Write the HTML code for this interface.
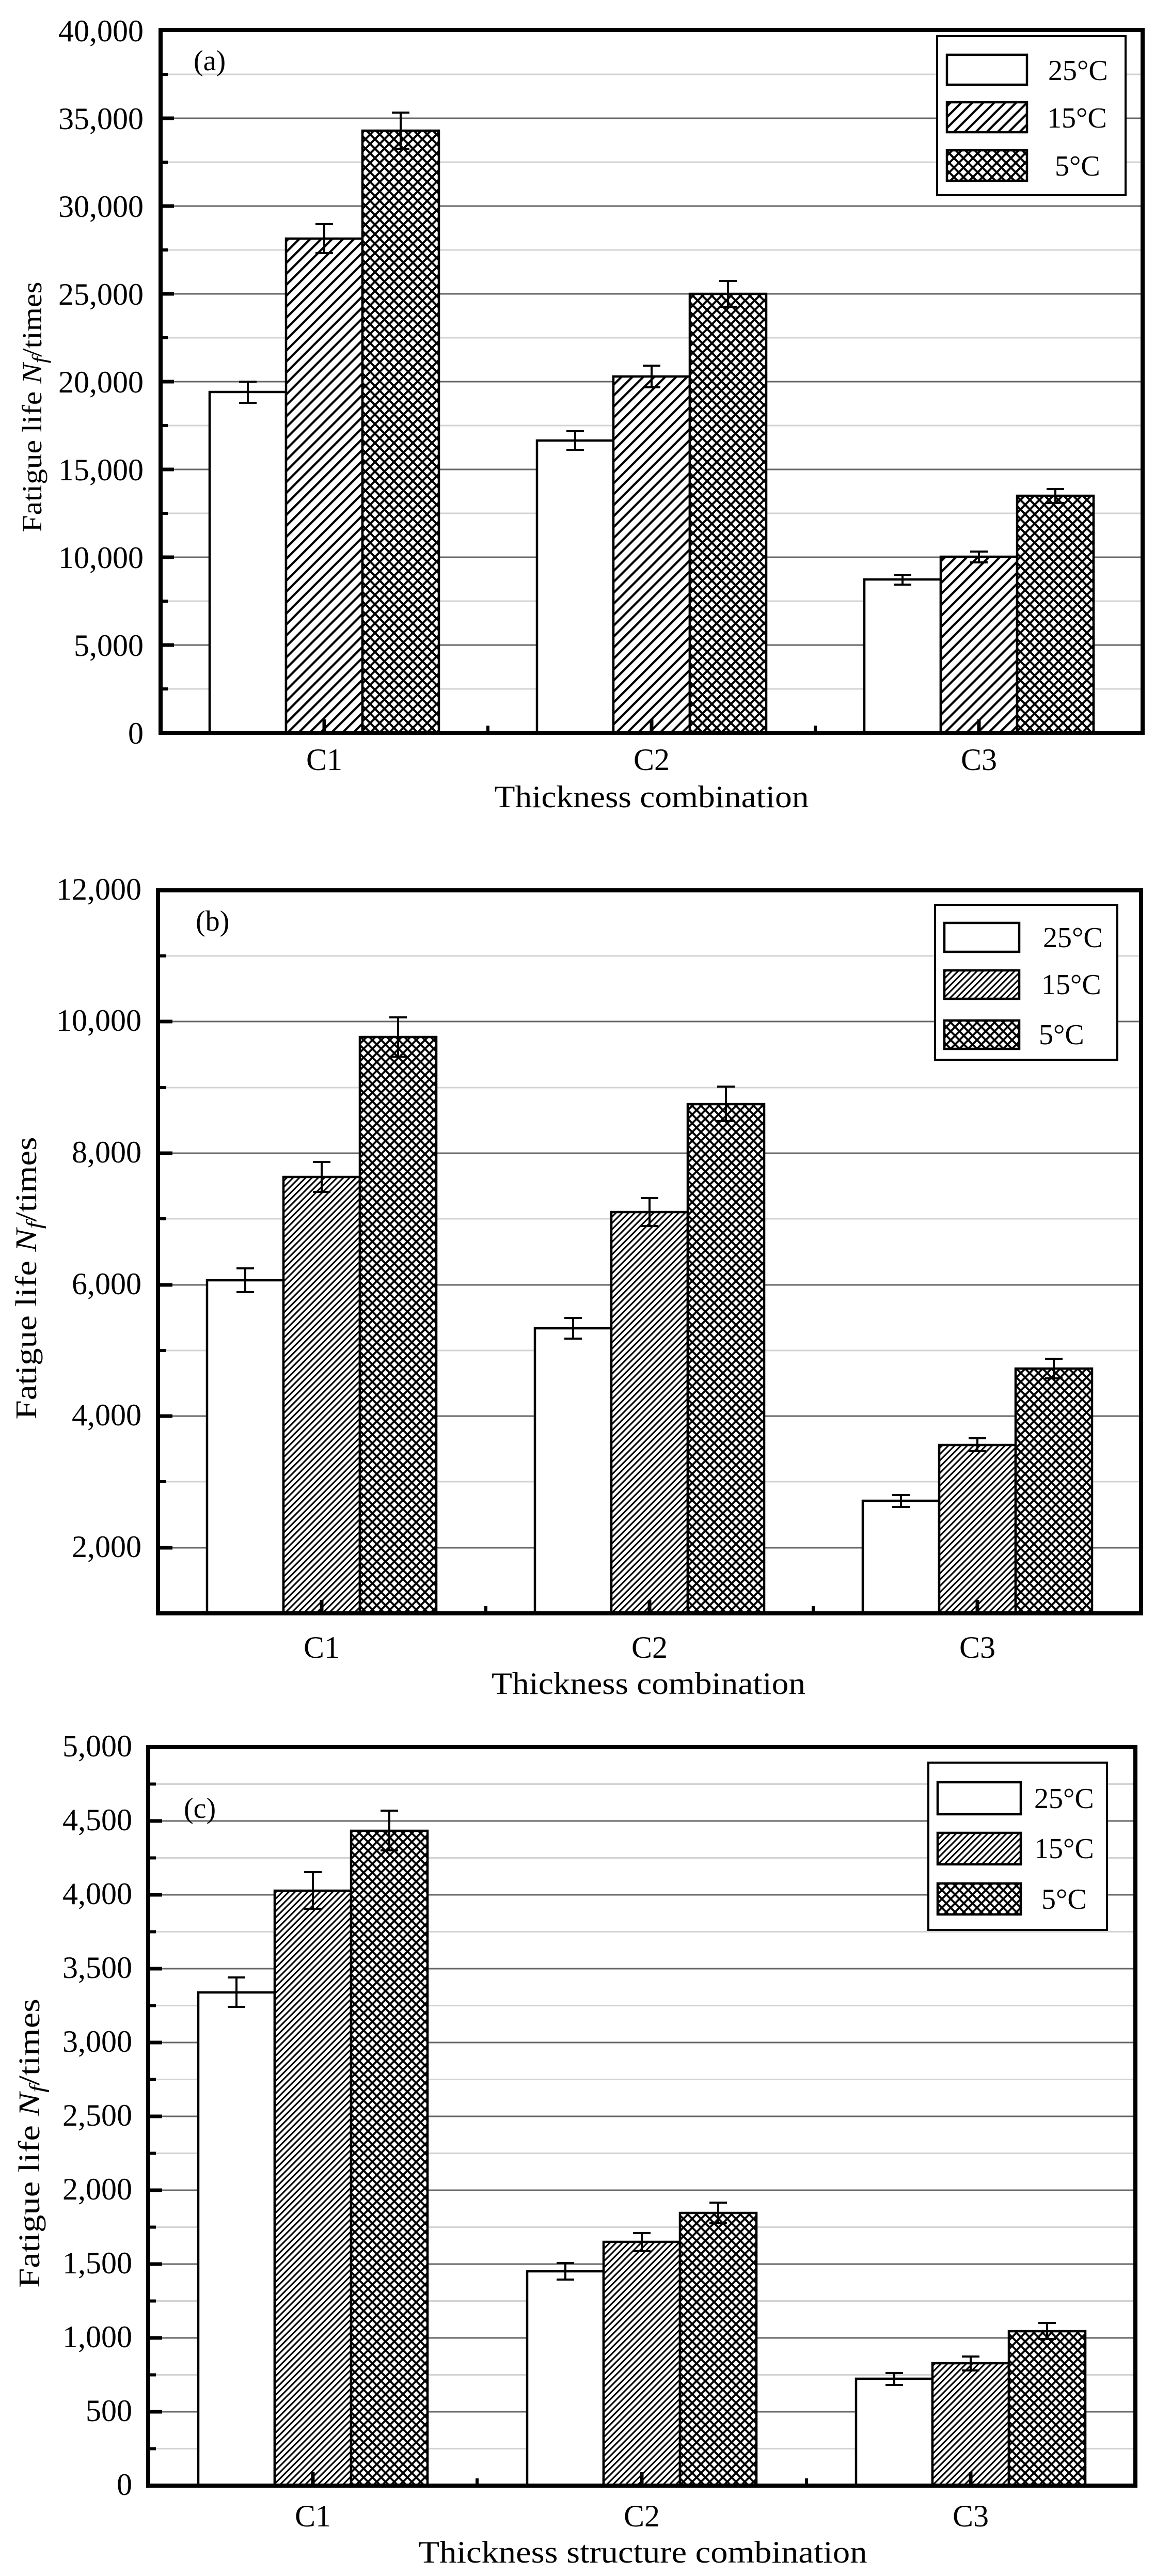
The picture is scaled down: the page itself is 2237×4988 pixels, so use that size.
<!DOCTYPE html>
<html><head><meta charset="utf-8">
<style>
html,body{margin:0;padding:0;background:#fff;}
svg{display:block;}
text{font-family:"Liberation Serif",serif;fill:#000;}
.gmaj{stroke:#666;stroke-width:3;}
.gmin{stroke:#d3d3d3;stroke-width:3;}
.ax{stroke:#000;stroke-width:8;fill:none;}
.tk{stroke:#000;stroke-width:7;}
.tkm{stroke:#000;stroke-width:6;}
.bar{stroke:#000;stroke-width:4.5;}
.eb{stroke:#000;stroke-width:4;fill:none;}
.lg{fill:#fff;stroke:#000;stroke-width:4;}
</style></head>
<body>
<svg width="2237" height="4988" viewBox="0 0 2237 4988" xmlns="http://www.w3.org/2000/svg">
<defs>
<pattern id="hA" patternUnits="userSpaceOnUse" width="15" height="15" patternTransform="rotate(45)">
<rect width="15" height="15" fill="#fff"/><line x1="2" y1="0" x2="2" y2="15" stroke="#000" stroke-width="4.5"/></pattern>
<pattern id="xA" patternUnits="userSpaceOnUse" width="13" height="13" patternTransform="rotate(45)">
<rect width="13" height="13" fill="#fff"/><line x1="2" y1="0" x2="2" y2="13" stroke="#000" stroke-width="4"/><line x1="0" y1="2" x2="13" y2="2" stroke="#000" stroke-width="4"/></pattern>
<pattern id="hB" patternUnits="userSpaceOnUse" width="8.6" height="8.6" patternTransform="rotate(45)">
<rect width="9" height="9" fill="#fff"/><line x1="1.5" y1="0" x2="1.5" y2="9" stroke="#000" stroke-width="3.2"/></pattern>
<pattern id="xB" patternUnits="userSpaceOnUse" width="12" height="12" patternTransform="rotate(45)">
<rect width="12" height="12" fill="#fff"/><line x1="2" y1="0" x2="2" y2="12" stroke="#000" stroke-width="3.8"/><line x1="0" y1="2" x2="12" y2="2" stroke="#000" stroke-width="3.8"/></pattern>
</defs>
<rect width="2237" height="4988" fill="#fff"/>

<!-- ================= PANEL A ================= -->
<g>
<line class="gmin" x1="311" x2="2213" y1="1334" y2="1334"/>
<line class="gmaj" x1="311" x2="2213" y1="1249" y2="1249"/>
<line class="gmin" x1="311" x2="2213" y1="1164" y2="1164"/>
<line class="gmaj" x1="311" x2="2213" y1="1079" y2="1079"/>
<line class="gmin" x1="311" x2="2213" y1="994" y2="994"/>
<line class="gmaj" x1="311" x2="2213" y1="909" y2="909"/>
<line class="gmin" x1="311" x2="2213" y1="824" y2="824"/>
<line class="gmaj" x1="311" x2="2213" y1="739" y2="739"/>
<line class="gmin" x1="311" x2="2213" y1="654" y2="654"/>
<line class="gmaj" x1="311" x2="2213" y1="569" y2="569"/>
<line class="gmin" x1="311" x2="2213" y1="484" y2="484"/>
<line class="gmaj" x1="311" x2="2213" y1="399" y2="399"/>
<line class="gmin" x1="311" x2="2213" y1="314" y2="314"/>
<line class="gmaj" x1="311" x2="2213" y1="229" y2="229"/>
<line class="gmin" x1="311" x2="2213" y1="144" y2="144"/>

<rect class="bar" x="406" y="759" width="148" height="660" fill="#fff"/>
<rect class="bar" x="554" y="462" width="148" height="957" fill="url(#hA)"/>
<rect class="bar" x="702" y="253" width="148" height="1166" fill="url(#xA)"/>
<rect class="bar" x="1040" y="853" width="148" height="566" fill="#fff"/>
<rect class="bar" x="1188" y="729" width="148" height="690" fill="url(#hA)"/>
<rect class="bar" x="1336" y="569" width="148" height="850" fill="url(#xA)"/>
<rect class="bar" x="1674" y="1122" width="148" height="297" fill="#fff"/>
<rect class="bar" x="1822" y="1078" width="148" height="341" fill="url(#hA)"/>
<rect class="bar" x="1970" y="960" width="148" height="459" fill="url(#xA)"/>

<path class="eb" d="M480 739V780M463 739H497M463 780H497"/>
<path class="eb" d="M628 434V490M611 434H645M611 490H645"/>
<path class="eb" d="M776 218V288M759 218H793M759 288H793"/>
<path class="eb" d="M1114 835V871M1097 835H1131M1097 871H1131"/>
<path class="eb" d="M1262 708V750M1245 708H1279M1245 750H1279"/>
<path class="eb" d="M1410 544V594M1393 544H1427M1393 594H1427"/>
<path class="eb" d="M1748 1113V1132M1731 1113H1765M1731 1132H1765"/>
<path class="eb" d="M1896 1068V1089M1879 1068H1913M1879 1089H1913"/>
<path class="eb" d="M2044 947V974M2027 947H2061M2027 974H2061"/>

<rect class="ax" x="311" y="58" width="1902" height="1361"/>
<g class="tk">
<line x1="311" x2="337" y1="1249" y2="1249"/><line x1="311" x2="337" y1="1079" y2="1079"/>
<line x1="311" x2="337" y1="909" y2="909"/><line x1="311" x2="337" y1="739" y2="739"/>
<line x1="311" x2="337" y1="569" y2="569"/><line x1="311" x2="337" y1="399" y2="399"/>
<line x1="311" x2="337" y1="229" y2="229"/>
<line x1="628" x2="628" y1="1419" y2="1393"/><line x1="1262" x2="1262" y1="1419" y2="1393"/><line x1="1896" x2="1896" y1="1419" y2="1393"/>
</g>
<g class="tkm">
<line x1="311" x2="325" y1="1334" y2="1334"/><line x1="311" x2="325" y1="1164" y2="1164"/>
<line x1="311" x2="325" y1="994" y2="994"/><line x1="311" x2="325" y1="824" y2="824"/>
<line x1="311" x2="325" y1="654" y2="654"/><line x1="311" x2="325" y1="484" y2="484"/>
<line x1="311" x2="325" y1="314" y2="314"/><line x1="311" x2="325" y1="144" y2="144"/>
<line x1="945" x2="945" y1="1419" y2="1405"/><line x1="1579" x2="1579" y1="1419" y2="1405"/>
</g>
<g font-size="60" text-anchor="end">
<text x="278" y="1440">0</text>
<text x="278" y="1270">5,000</text>
<text x="278" y="1100">10,000</text>
<text x="278" y="930">15,000</text>
<text x="278" y="760">20,000</text>
<text x="278" y="590">25,000</text>
<text x="278" y="420">30,000</text>
<text x="278" y="250">35,000</text>
<text x="278" y="80">40,000</text>
</g>
<g font-size="60" text-anchor="middle">
<text x="628" y="1491">C1</text><text x="1262" y="1491">C2</text><text x="1896" y="1491">C3</text>
<text x="1262" y="1563" textLength="609" lengthAdjust="spacingAndGlyphs">Thickness combination</text>
</g>
<text font-size="56" x="375" y="136">(a)</text>
<text font-size="54" transform="translate(80,788) rotate(-90)" text-anchor="middle" textLength="485" lengthAdjust="spacingAndGlyphs">Fatigue life <tspan font-style="italic">N</tspan><tspan font-style="italic" font-size="40" dy="10">f</tspan><tspan dy="-10">/times</tspan></text>

<rect class="lg" x="1815" y="70" width="365" height="308"/>
<rect class="bar" x="1834" y="106" width="155" height="58" fill="#fff"/>
<rect class="bar" x="1834" y="198" width="155" height="58" fill="url(#hA)"/>
<rect class="bar" x="1834" y="291" width="155" height="59" fill="url(#xA)"/>
<g font-size="56">
<text x="2030" y="155">25°C</text>
<text x="2028" y="247">15°C</text>
<text x="2043" y="340">5°C</text>
</g>
</g>

<!-- ================= PANEL B ================= -->
<g>
<line class="gmaj" x1="306" x2="2210" y1="2997" y2="2997"/>
<line class="gmin" x1="306" x2="2210" y1="2869" y2="2869"/>
<line class="gmaj" x1="306" x2="2210" y1="2742" y2="2742"/>
<line class="gmin" x1="306" x2="2210" y1="2615" y2="2615"/>
<line class="gmaj" x1="306" x2="2210" y1="2488" y2="2488"/>
<line class="gmin" x1="306" x2="2210" y1="2360" y2="2360"/>
<line class="gmaj" x1="306" x2="2210" y1="2233" y2="2233"/>
<line class="gmin" x1="306" x2="2210" y1="2106" y2="2106"/>
<line class="gmaj" x1="306" x2="2210" y1="1978" y2="1978"/>
<line class="gmin" x1="306" x2="2210" y1="1851" y2="1851"/>

<rect class="bar" x="401" y="2479" width="148" height="645" fill="#fff"/>
<rect class="bar" x="549" y="2279" width="148" height="845" fill="url(#hB)"/>
<rect class="bar" x="697" y="2008" width="148" height="1116" fill="url(#xB)"/>
<rect class="bar" x="1036" y="2572" width="148" height="552" fill="#fff"/>
<rect class="bar" x="1184" y="2347" width="148" height="777" fill="url(#hB)"/>
<rect class="bar" x="1332" y="2138" width="148" height="986" fill="url(#xB)"/>
<rect class="bar" x="1671" y="2906" width="148" height="218" fill="#fff"/>
<rect class="bar" x="1819" y="2798" width="148" height="326" fill="url(#hB)"/>
<rect class="bar" x="1967" y="2650" width="148" height="474" fill="url(#xB)"/>

<path class="eb" d="M475 2456V2502M458 2456H492M458 2502H492"/>
<path class="eb" d="M623 2250V2308M606 2250H640M606 2308H640"/>
<path class="eb" d="M771 1970V2046M754 1970H788M754 2046H788"/>
<path class="eb" d="M1110 2552V2592M1093 2552H1127M1093 2592H1127"/>
<path class="eb" d="M1258 2320V2374M1241 2320H1275M1241 2374H1275"/>
<path class="eb" d="M1406 2104V2171M1389 2104H1423M1389 2171H1423"/>
<path class="eb" d="M1745 2895V2918M1728 2895H1762M1728 2918H1762"/>
<path class="eb" d="M1893 2785V2810M1876 2785H1910M1876 2810H1910"/>
<path class="eb" d="M2041 2631V2669M2024 2631H2058M2024 2669H2058"/>

<rect class="ax" x="306" y="1724" width="1904" height="1400"/>
<g class="tk">
<line x1="306" x2="334" y1="2997" y2="2997"/><line x1="306" x2="334" y1="2742" y2="2742"/>
<line x1="306" x2="334" y1="2488" y2="2488"/><line x1="306" x2="334" y1="2233" y2="2233"/>
<line x1="306" x2="334" y1="1978" y2="1978"/>
<line x1="623" x2="623" y1="3124" y2="3098"/><line x1="1258" x2="1258" y1="3124" y2="3098"/><line x1="1893" x2="1893" y1="3124" y2="3098"/>
</g>
<g class="tkm">
<line x1="306" x2="322" y1="2869" y2="2869"/><line x1="306" x2="322" y1="2615" y2="2615"/>
<line x1="306" x2="322" y1="2360" y2="2360"/><line x1="306" x2="322" y1="2106" y2="2106"/>
<line x1="306" x2="322" y1="1851" y2="1851"/>
<line x1="941" x2="941" y1="3124" y2="3110"/><line x1="1575" x2="1575" y1="3124" y2="3110"/>
</g>
<g font-size="60" text-anchor="end">
<text x="274" y="3015">2,000</text>
<text x="274" y="2760">4,000</text>
<text x="274" y="2506">6,000</text>
<text x="274" y="2251">8,000</text>
<text x="274" y="1996">10,000</text>
<text x="274" y="1742">12,000</text>
</g>
<g font-size="60" text-anchor="middle">
<text x="623" y="3210">C1</text><text x="1258" y="3210">C2</text><text x="1893" y="3210">C3</text>
<text x="1256" y="3280" textLength="608" lengthAdjust="spacingAndGlyphs">Thickness combination</text>
</g>
<text font-size="56" x="379" y="1802">(b)</text>
<text font-size="58" transform="translate(70,2475) rotate(-90)" text-anchor="middle" textLength="547" lengthAdjust="spacingAndGlyphs">Fatigue life <tspan font-style="italic">N</tspan><tspan font-style="italic" font-size="42" dy="10">f</tspan><tspan dy="-10">/times</tspan></text>

<rect class="lg" x="1811" y="1752" width="353" height="300"/>
<rect class="bar" x="1829" y="1787" width="145" height="56" fill="#fff"/>
<rect class="bar" x="1829" y="1879" width="145" height="55" fill="url(#hB)"/>
<rect class="bar" x="1829" y="1976" width="145" height="55" fill="url(#xB)"/>
<g font-size="56">
<text x="2020" y="1834">25°C</text>
<text x="2017" y="1925">15°C</text>
<text x="2012" y="2022">5°C</text>
</g>
</g>

<!-- ================= PANEL C ================= -->
<g>
<line class="gmin" x1="287" x2="2199" y1="4741.5" y2="4741.5"/>
<line class="gmaj" x1="287" x2="2199" y1="4670" y2="4670"/>
<line class="gmin" x1="287" x2="2199" y1="4598.5" y2="4598.5"/>
<line class="gmaj" x1="287" x2="2199" y1="4527" y2="4527"/>
<line class="gmin" x1="287" x2="2199" y1="4455.5" y2="4455.5"/>
<line class="gmaj" x1="287" x2="2199" y1="4384" y2="4384"/>
<line class="gmin" x1="287" x2="2199" y1="4312.5" y2="4312.5"/>
<line class="gmaj" x1="287" x2="2199" y1="4241" y2="4241"/>
<line class="gmin" x1="287" x2="2199" y1="4169.5" y2="4169.5"/>
<line class="gmaj" x1="287" x2="2199" y1="4098" y2="4098"/>
<line class="gmin" x1="287" x2="2199" y1="4026.5" y2="4026.5"/>
<line class="gmaj" x1="287" x2="2199" y1="3955" y2="3955"/>
<line class="gmin" x1="287" x2="2199" y1="3883.5" y2="3883.5"/>
<line class="gmaj" x1="287" x2="2199" y1="3812" y2="3812"/>
<line class="gmin" x1="287" x2="2199" y1="3740.5" y2="3740.5"/>
<line class="gmaj" x1="287" x2="2199" y1="3669" y2="3669"/>
<line class="gmin" x1="287" x2="2199" y1="3597.5" y2="3597.5"/>
<line class="gmaj" x1="287" x2="2199" y1="3526" y2="3526"/>
<line class="gmin" x1="287" x2="2199" y1="3454.5" y2="3454.5"/>

<rect class="bar" x="384" y="3858" width="148" height="955" fill="#fff"/>
<rect class="bar" x="532" y="3661" width="148" height="1152" fill="url(#hB)"/>
<rect class="bar" x="680" y="3545" width="148" height="1268" fill="url(#xB)"/>
<rect class="bar" x="1021" y="4398" width="148" height="415" fill="#fff"/>
<rect class="bar" x="1169" y="4341" width="148" height="472" fill="url(#hB)"/>
<rect class="bar" x="1317" y="4285" width="148" height="528" fill="url(#xB)"/>
<rect class="bar" x="1658" y="4606" width="148" height="207" fill="#fff"/>
<rect class="bar" x="1806" y="4576" width="148" height="237" fill="url(#hB)"/>
<rect class="bar" x="1954" y="4514" width="148" height="299" fill="url(#xB)"/>

<path class="eb" d="M458 3829V3886M441 3829H475M441 3886H475"/>
<path class="eb" d="M606 3625V3696M589 3625H623M589 3696H623"/>
<path class="eb" d="M754 3506V3583M737 3506H771M737 3583H771"/>
<path class="eb" d="M1095 4382V4414M1078 4382H1112M1078 4414H1112"/>
<path class="eb" d="M1243 4324V4359M1226 4324H1260M1226 4359H1260"/>
<path class="eb" d="M1391 4265V4305M1374 4265H1408M1374 4305H1408"/>
<path class="eb" d="M1732 4595V4618M1715 4595H1749M1715 4618H1749"/>
<path class="eb" d="M1880 4563V4590M1863 4563H1897M1863 4590H1897"/>
<path class="eb" d="M2028 4498V4529M2011 4498H2045M2011 4529H2045"/>

<rect class="ax" x="287" y="3383" width="1912" height="1430"/>
<g class="tk">
<line x1="287" x2="314" y1="4670" y2="4670"/><line x1="287" x2="314" y1="4527" y2="4527"/>
<line x1="287" x2="314" y1="4384" y2="4384"/><line x1="287" x2="314" y1="4241" y2="4241"/>
<line x1="287" x2="314" y1="4098" y2="4098"/><line x1="287" x2="314" y1="3955" y2="3955"/>
<line x1="287" x2="314" y1="3812" y2="3812"/><line x1="287" x2="314" y1="3669" y2="3669"/>
<line x1="287" x2="314" y1="3526" y2="3526"/>
<line x1="606" x2="606" y1="4813" y2="4787"/><line x1="1243" x2="1243" y1="4813" y2="4787"/><line x1="1880" x2="1880" y1="4813" y2="4787"/>
</g>
<g class="tkm">
<line x1="287" x2="302" y1="4741.5" y2="4741.5"/><line x1="287" x2="302" y1="4598.5" y2="4598.5"/>
<line x1="287" x2="302" y1="4455.5" y2="4455.5"/><line x1="287" x2="302" y1="4312.5" y2="4312.5"/>
<line x1="287" x2="302" y1="4169.5" y2="4169.5"/><line x1="287" x2="302" y1="4026.5" y2="4026.5"/>
<line x1="287" x2="302" y1="3883.5" y2="3883.5"/><line x1="287" x2="302" y1="3740.5" y2="3740.5"/>
<line x1="287" x2="302" y1="3597.5" y2="3597.5"/><line x1="287" x2="302" y1="3454.5" y2="3454.5"/>
<line x1="924" x2="924" y1="4813" y2="4799"/><line x1="1562" x2="1562" y1="4813" y2="4799"/>
</g>
<g font-size="60" text-anchor="end">
<text x="256" y="4831">0</text>
<text x="256" y="4688">500</text>
<text x="256" y="4545">1,000</text>
<text x="256" y="4402">1,500</text>
<text x="256" y="4259">2,000</text>
<text x="256" y="4116">2,500</text>
<text x="256" y="3973">3,000</text>
<text x="256" y="3830">3,500</text>
<text x="256" y="3687">4,000</text>
<text x="256" y="3544">4,500</text>
<text x="256" y="3401">5,000</text>
</g>
<g font-size="60" text-anchor="middle">
<text x="606" y="4892">C1</text><text x="1243" y="4892">C2</text><text x="1880" y="4892">C3</text>
<text x="1245" y="4962" textLength="869" lengthAdjust="spacingAndGlyphs">Thickness structure combination</text>
</g>
<text font-size="56" x="356" y="3520">(c)</text>
<text font-size="58" transform="translate(76,4150) rotate(-90)" text-anchor="middle" textLength="560" lengthAdjust="spacingAndGlyphs">Fatigue life <tspan font-style="italic">N</tspan><tspan font-style="italic" font-size="42" dy="10">f</tspan><tspan dy="-10">/times</tspan></text>

<rect class="lg" x="1798" y="3413" width="346" height="324"/>
<rect class="bar" x="1816" y="3451" width="161" height="62" fill="#fff"/>
<rect class="bar" x="1816" y="3549" width="161" height="61" fill="url(#hB)"/>
<rect class="bar" x="1816" y="3647" width="161" height="60" fill="url(#xB)"/>
<g font-size="56">
<text x="2003" y="3501">25°C</text>
<text x="2003" y="3598">15°C</text>
<text x="2017" y="3696">5°C</text>
</g>
</g>
</svg>
</body></html>
